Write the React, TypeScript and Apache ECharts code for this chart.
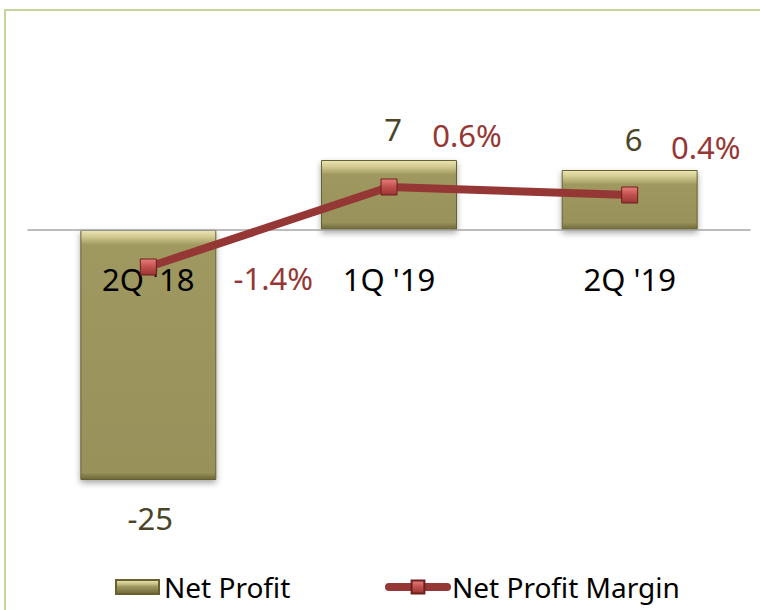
import React, { useEffect, useRef } from "react";
import * as echarts from "echarts";

const categories = ["2Q '18", "1Q '19", "2Q '19"];
const netProfit = [-25, 7, 6];
const netProfitMargin = [-1.4, 0.6, 0.4];
const marginLabels = ["-1.4%", "0.6%", "0.4%"];

const FONT = "Noto Sans";
const marginOffsets = [
  [125, 11],
  [78, -52],
  [76, -48],
];

function bevel(h: number) {
  const t = Math.min(0.45, 13 / h);
  const b = Math.max(0.55, 1 - 7 / h);
  return new echarts.graphic.LinearGradient(0, 0, 0, 1, [
    { offset: 0, color: "#ece6b4" },
    { offset: t * 0.45, color: "#d4cc93" },
    { offset: t, color: "#a8a168" },
    { offset: t + 0.01, color: "#9f985f" },
    { offset: b, color: "#98915a" },
    { offset: 1, color: "#6c6739" },
  ]);
}

export default function App() {
  const ref = useRef<HTMLDivElement>(null);
  useEffect(() => {
    if (!ref.current) return;
    const chart = echarts.init(ref.current, null, { renderer: "svg" });
    const barData = netProfit.map((v) => ({
      value: v,
      itemStyle: { color: bevel(Math.abs(v) * 10) },
      label: {
        position: v < 0 ? "bottom" : "top",
        distance: v < 0 ? 22 : 16,
        offset: v < 0 ? [2, 0] : [4, 0],
      },
    }));
    const lineData = netProfitMargin.map((v, i) => ({
      value: v,
      label: {
        show: true,
        position: "inside",
        formatter: marginLabels[i],
        offset: marginOffsets[i],
        color: "#953735",
        fontSize: 31,
        fontFamily: FONT,
      },
    }));
    chart.setOption({
      animation: false,
      backgroundColor: "#ffffff",
      graphic: [
        {
          type: "rect",
          shape: { x: 5, y: 10, width: 800, height: 700 },
          style: { fill: "none", stroke: "#c3d69b", lineWidth: 2 },
          z: 0,
          silent: true,
        },
      ],
      grid: { left: 28, right: 10, top: 130, bottom: 80 },
      legend: [
        {
          data: [{ name: "Net Profit", icon: "rect", itemStyle: { color: bevel(14) } }],
          left: 110,
          top: 568,
          itemWidth: 43,
          itemHeight: 14,
          itemGap: 12,
          textStyle: { fontFamily: FONT, fontSize: 28, color: "#000" },
        },
        {
          data: ["Net Profit Margin"],
          left: 380,
          top: 568,
          itemWidth: 58,
          itemHeight: 16,
          textStyle: { fontFamily: FONT, fontSize: 28, color: "#000" },
          lineStyle: { width: 8, cap: "round" },
        },
      ],
      xAxis: {
        type: "category",
        data: categories,
        z: 3,
        position: "bottom",
        offset: -300,
        axisLine: {
          onZero: false,
          lineStyle: { color: "#a6a6a6", width: 1.5 },
        },
        axisTick: { show: false },
        axisLabel: {
          fontFamily: FONT,
          fontSize: 31,
          color: "#000",
          margin: 33,
        },
      },
      yAxis: [
        { type: "value", min: -30, max: 10, show: false, splitLine: { show: false } },
        { type: "value", min: -7.975, max: 2.025, show: false, splitLine: { show: false } },
      ],
      series: [
        {
          name: "Net Profit",
          type: "bar",
          data: barData,
          barWidth: "56.5%",
          z: 2,
          itemStyle: {
            color: "#9c955e",
            borderColor: "#66612f",
            borderWidth: 1,
            shadowBlur: 6,
            shadowColor: "rgba(0,0,0,0.35)",
            shadowOffsetY: 3,
          },
          label: {
            show: true,
            fontFamily: FONT,
            fontSize: 31,
            color: "#4a4528",
          },
        },
        {
          name: "Net Profit Margin",
          type: "line",
          yAxisIndex: 1,
          data: lineData,
          z: 5,
          symbol: "rect",
          symbolSize: 16,
          lineStyle: { color: "#953735", width: 8 },
          itemStyle: {
            color: new echarts.graphic.LinearGradient(0, 0, 0, 1, [
              { offset: 0, color: "#e87d7c" },
              { offset: 0.5, color: "#c0504d" },
              { offset: 1, color: "#9b3533" },
            ]),
            borderColor: "#6e1f1e",
            borderWidth: 1,
          },
        },
      ],
    });
    return () => chart.dispose();
  }, []);
  return (
    <div
      ref={ref}
      style={{ position: "absolute", left: 0, top: 0, width: 760, height: 610 }}
    />
  );
}
